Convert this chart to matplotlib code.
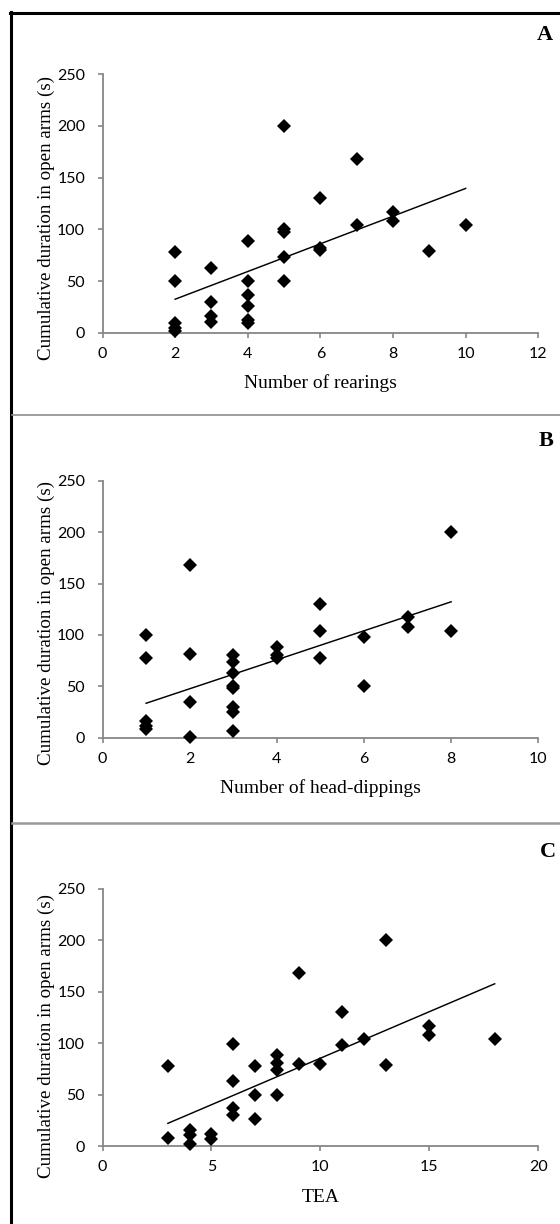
import matplotlib
matplotlib.use("Agg")
import matplotlib.pyplot as plt
from matplotlib.lines import Line2D

# ---------------- data ----------------
rear_x = [2, 2, 2, 2, 2, 3, 3, 3, 3, 4, 4, 4, 4, 4, 4, 5, 5, 5, 5, 5, 6, 6, 6, 7, 7, 8, 8, 9, 10]
rear_y = [78, 50, 9, 5, 2, 63, 30, 16, 10, 89, 50, 36, 26, 12, 9, 200, 100, 97, 73, 50, 130, 82, 80, 168, 104, 117, 108, 79, 104]

head_x = [1, 1, 1, 1, 1, 2, 2, 2, 2, 3, 3, 3, 3, 3, 3, 3, 3, 4, 4, 4, 5, 5, 5, 6, 6, 7, 7, 8, 8]
head_y = [100, 78, 16, 11, 8, 168, 81, 35, 1, 80, 74, 63, 50, 48, 30, 25, 7, 88, 80, 78, 130, 104, 78, 98, 50, 117, 108, 200, 104]

tea_x = [3, 3, 4, 4, 4, 5, 5, 6, 6, 6, 6, 7, 7, 7, 8, 8, 8, 8, 9, 9, 10, 11, 11, 12, 13, 13, 15, 15, 18]
tea_y = [78, 8, 16, 11, 2, 12, 7, 99, 63, 37, 30, 78, 50, 26, 89, 81, 74, 50, 168, 80, 80, 130, 98, 104, 200, 79, 117, 108, 104]

# linear trend lines: (slope, intercept, x_start, x_end)
trend_a = (13.4, 5.6, 2, 10)
trend_b = (14.1, 19.4, 1, 8)
trend_c = (9.05, -5.1, 3, 18)

x_labels = ["Number of rearings", "Number of head-dippings", "TEA"]
y_label = "Cumulative duration in open arms (s)"
panel_letters = ["A", "B", "C"]
x_ticks = [list(range(0, 13, 2)), list(range(0, 11, 2)), list(range(0, 21, 5))]
y_ticks = list(range(0, 251, 50))

# ---------------- layout ----------------
W, H = 560, 1224
fig = plt.figure(figsize=(W / 100, H / 100), dpi=100)

def fx(px):
    return px / W

def fy(py):
    return 1 - py / H

GRAY = "#868686"
TICKFONT = "Lato"
SERIF = "Liberation Serif"

panels = [
    dict(x=rear_x, y=rear_y, trend=trend_a, y0=332.7, y250=74.3, xlab_y=383, ylab_y=218, let=(545, 35)),
    dict(x=head_x, y=head_y, trend=trend_b, y0=737.7, y250=480.7, xlab_y=788, ylab_y=623, let=(546, 441)),
    dict(x=tea_x, y=tea_y, trend=trend_c, y0=1146, y250=889, xlab_y=1197, ylab_y=1036, let=(548, 852)),
]
left_px, right_px = 102.5, 538.3

for i, p in enumerate(panels):
    ax = fig.add_axes([fx(left_px), fy(p["y0"]), (right_px - left_px) / W, (p["y0"] - p["y250"]) / H])
    xt = x_ticks[i]
    ax.set_xlim(xt[0], xt[-1])
    ax.set_ylim(0, 250)
    ax.set_xticks(xt)
    ax.set_yticks(y_ticks)
    for s in ["top", "right"]:
        ax.spines[s].set_visible(False)
    for s in ["left", "bottom"]:
        ax.spines[s].set_color(GRAY)
        ax.spines[s].set_linewidth(1.3)
    ax.tick_params(axis="both", direction="out", length=3.5, width=1.2, color=GRAY,
                   labelsize=11.5, labelcolor="black")
    ax.tick_params(axis="x", pad=6.5)
    ax.tick_params(axis="y", pad=9)
    for lab in ax.get_xticklabels() + ax.get_yticklabels():
        lab.set_fontfamily(TICKFONT)
    m, b, xs, xe = p["trend"]
    ax.plot([xs, xe], [m * xs + b, m * xe + b], color="black", lw=1.05, zorder=2)
    ax.plot(p["x"], p["y"], linestyle="none", marker="D", markersize=7.3,
            markerfacecolor="black", markeredgewidth=0, color="black", zorder=3, clip_on=False)
    ax.patch.set_alpha(0)

    fig.text(fx(320.4), fy(p["xlab_y"]), x_labels[i], family=SERIF, fontsize=14,
             ha="center", va="center")
    fig.text(fx(46), fy(p["ylab_y"]), y_label, family=SERIF, fontsize=13.7,
             rotation=90, ha="center", va="center")
    lx, ly = p["let"]
    fig.text(fx(lx), fy(ly), panel_letters[i], family=SERIF, fontsize=16, fontweight="bold",
             ha="center", va="center")

# outer frame (left and top) and separators
fig.add_artist(Line2D([fx(11), fx(11)], [fy(12), fy(H + 2)], color="black", lw=2.2,
                      transform=fig.transFigure))
fig.add_artist(Line2D([fx(10), fx(W + 2)], [fy(13), fy(13)], color="black", lw=2.2,
                      transform=fig.transFigure))
fig.add_artist(Line2D([fx(12), fx(W + 2)], [fy(415), fy(415)], color="#8c8c8c", lw=1.2,
                      transform=fig.transFigure))
fig.add_artist(Line2D([fx(12), fx(W + 2)], [fy(823), fy(823)], color="#999999", lw=1.8,
                      transform=fig.transFigure))

fig.savefig("out.png", dpi=100)
